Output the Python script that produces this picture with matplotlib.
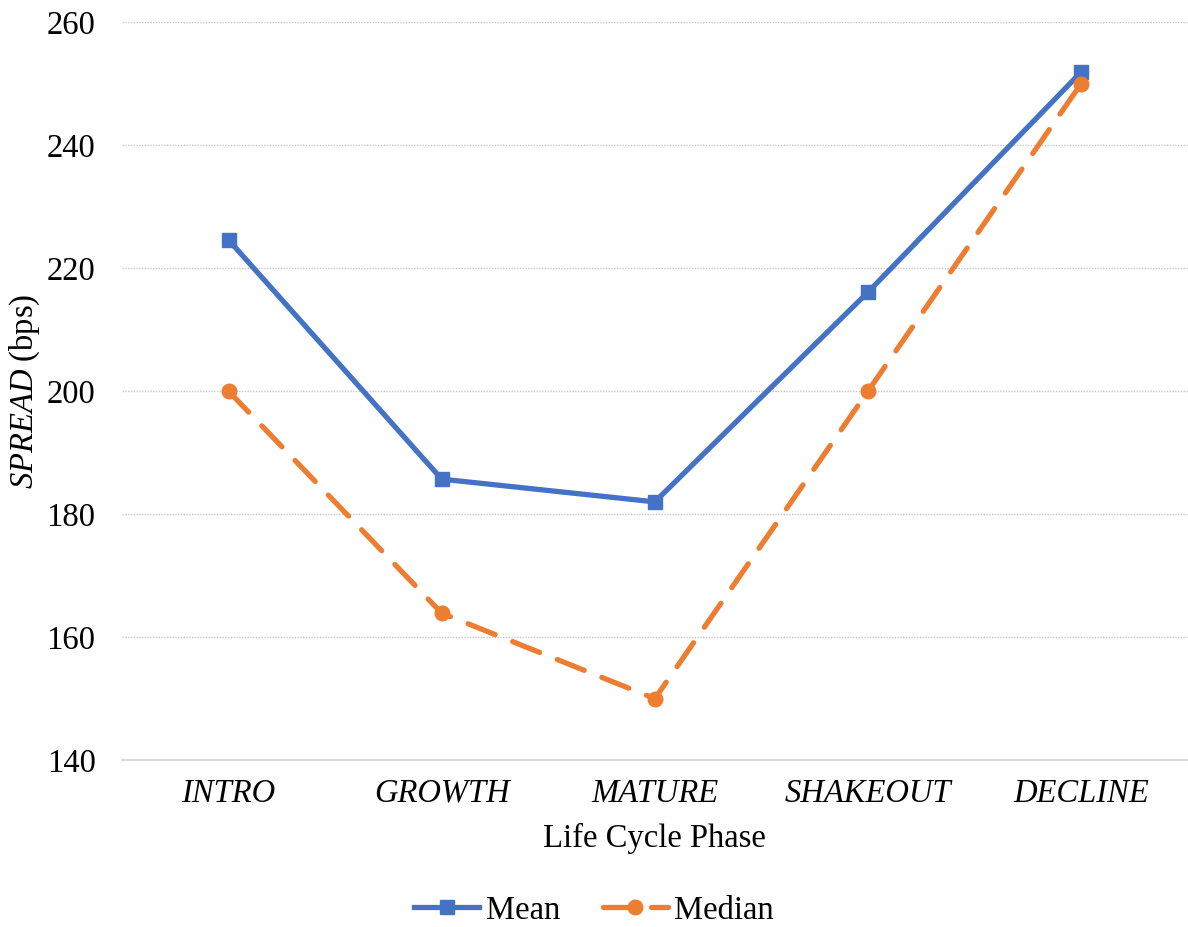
import matplotlib
matplotlib.use('Agg')
import matplotlib.pyplot as plt

plt.rcParams['font.family'] = ['Liberation Serif', 'DejaVu Serif']
plt.rcParams['mathtext.fontset'] = 'custom'
plt.rcParams['mathtext.rm'] = 'Liberation Serif'
plt.rcParams['mathtext.it'] = 'Liberation Serif:italic'

phases = ['INTRO', 'GROWTH', 'MATURE', 'SHAKEOUT', 'DECLINE']
mean_spread = [224.6, 185.7, 182.0, 216.1, 251.9]
median_spread = [200.0, 163.9, 150.0, 200.0, 250.0]

blue = '#4472C4'
orange = '#ED7D31'
fs = 23.5

fig = plt.figure(figsize=(11.88, 9.27), dpi=100)
ax = fig.add_axes([0.1027, 0.180, 0.897, 0.796])

x = list(range(len(phases)))
ax.plot(x, mean_spread, color=blue, linewidth=3.8, marker='s', markersize=10.5,
        label='Mean', zorder=3)
ax.plot(x, median_spread, color=orange, linewidth=3.8, marker='o', markersize=10.5,
        linestyle=(0, (5.5, 3.6)), dash_capstyle='round', label='Median', zorder=3)

ax.set_xlim(-0.5, len(phases) - 0.5)
ax.set_ylim(140, 260)
ax.set_yticks(range(140, 261, 20))
ax.set_xticks(x)
ax.set_xticklabels(phases, fontstyle='italic')
ax.tick_params(axis='both', length=0, labelsize=fs, colors='black')
ax.tick_params(axis='x', pad=13)
ax.tick_params(axis='y', pad=19)

ax.grid(axis='y', color='#c8c8c8', linestyle=(0, (1, 1)), linewidth=1)
for side in ['top', 'right', 'left']:
    ax.spines[side].set_visible(False)
ax.spines['bottom'].set_color('#d9d9d9')
ax.spines['bottom'].set_linewidth(1.5)

ax.set_xlabel('Life Cycle Phase', fontsize=fs, labelpad=10)
fig.text(25 / 1188, 0.578, r'$SPREAD$ (bps)', fontsize=fs, rotation=90,
         ha='center', va='center')

fig.legend(loc='center', bbox_to_anchor=(0.5, 0.018), ncol=2, frameon=False,
           fontsize=fs, handlelength=2.0, columnspacing=1.3, handletextpad=0.2)

fig.savefig('out.png', dpi=100)
